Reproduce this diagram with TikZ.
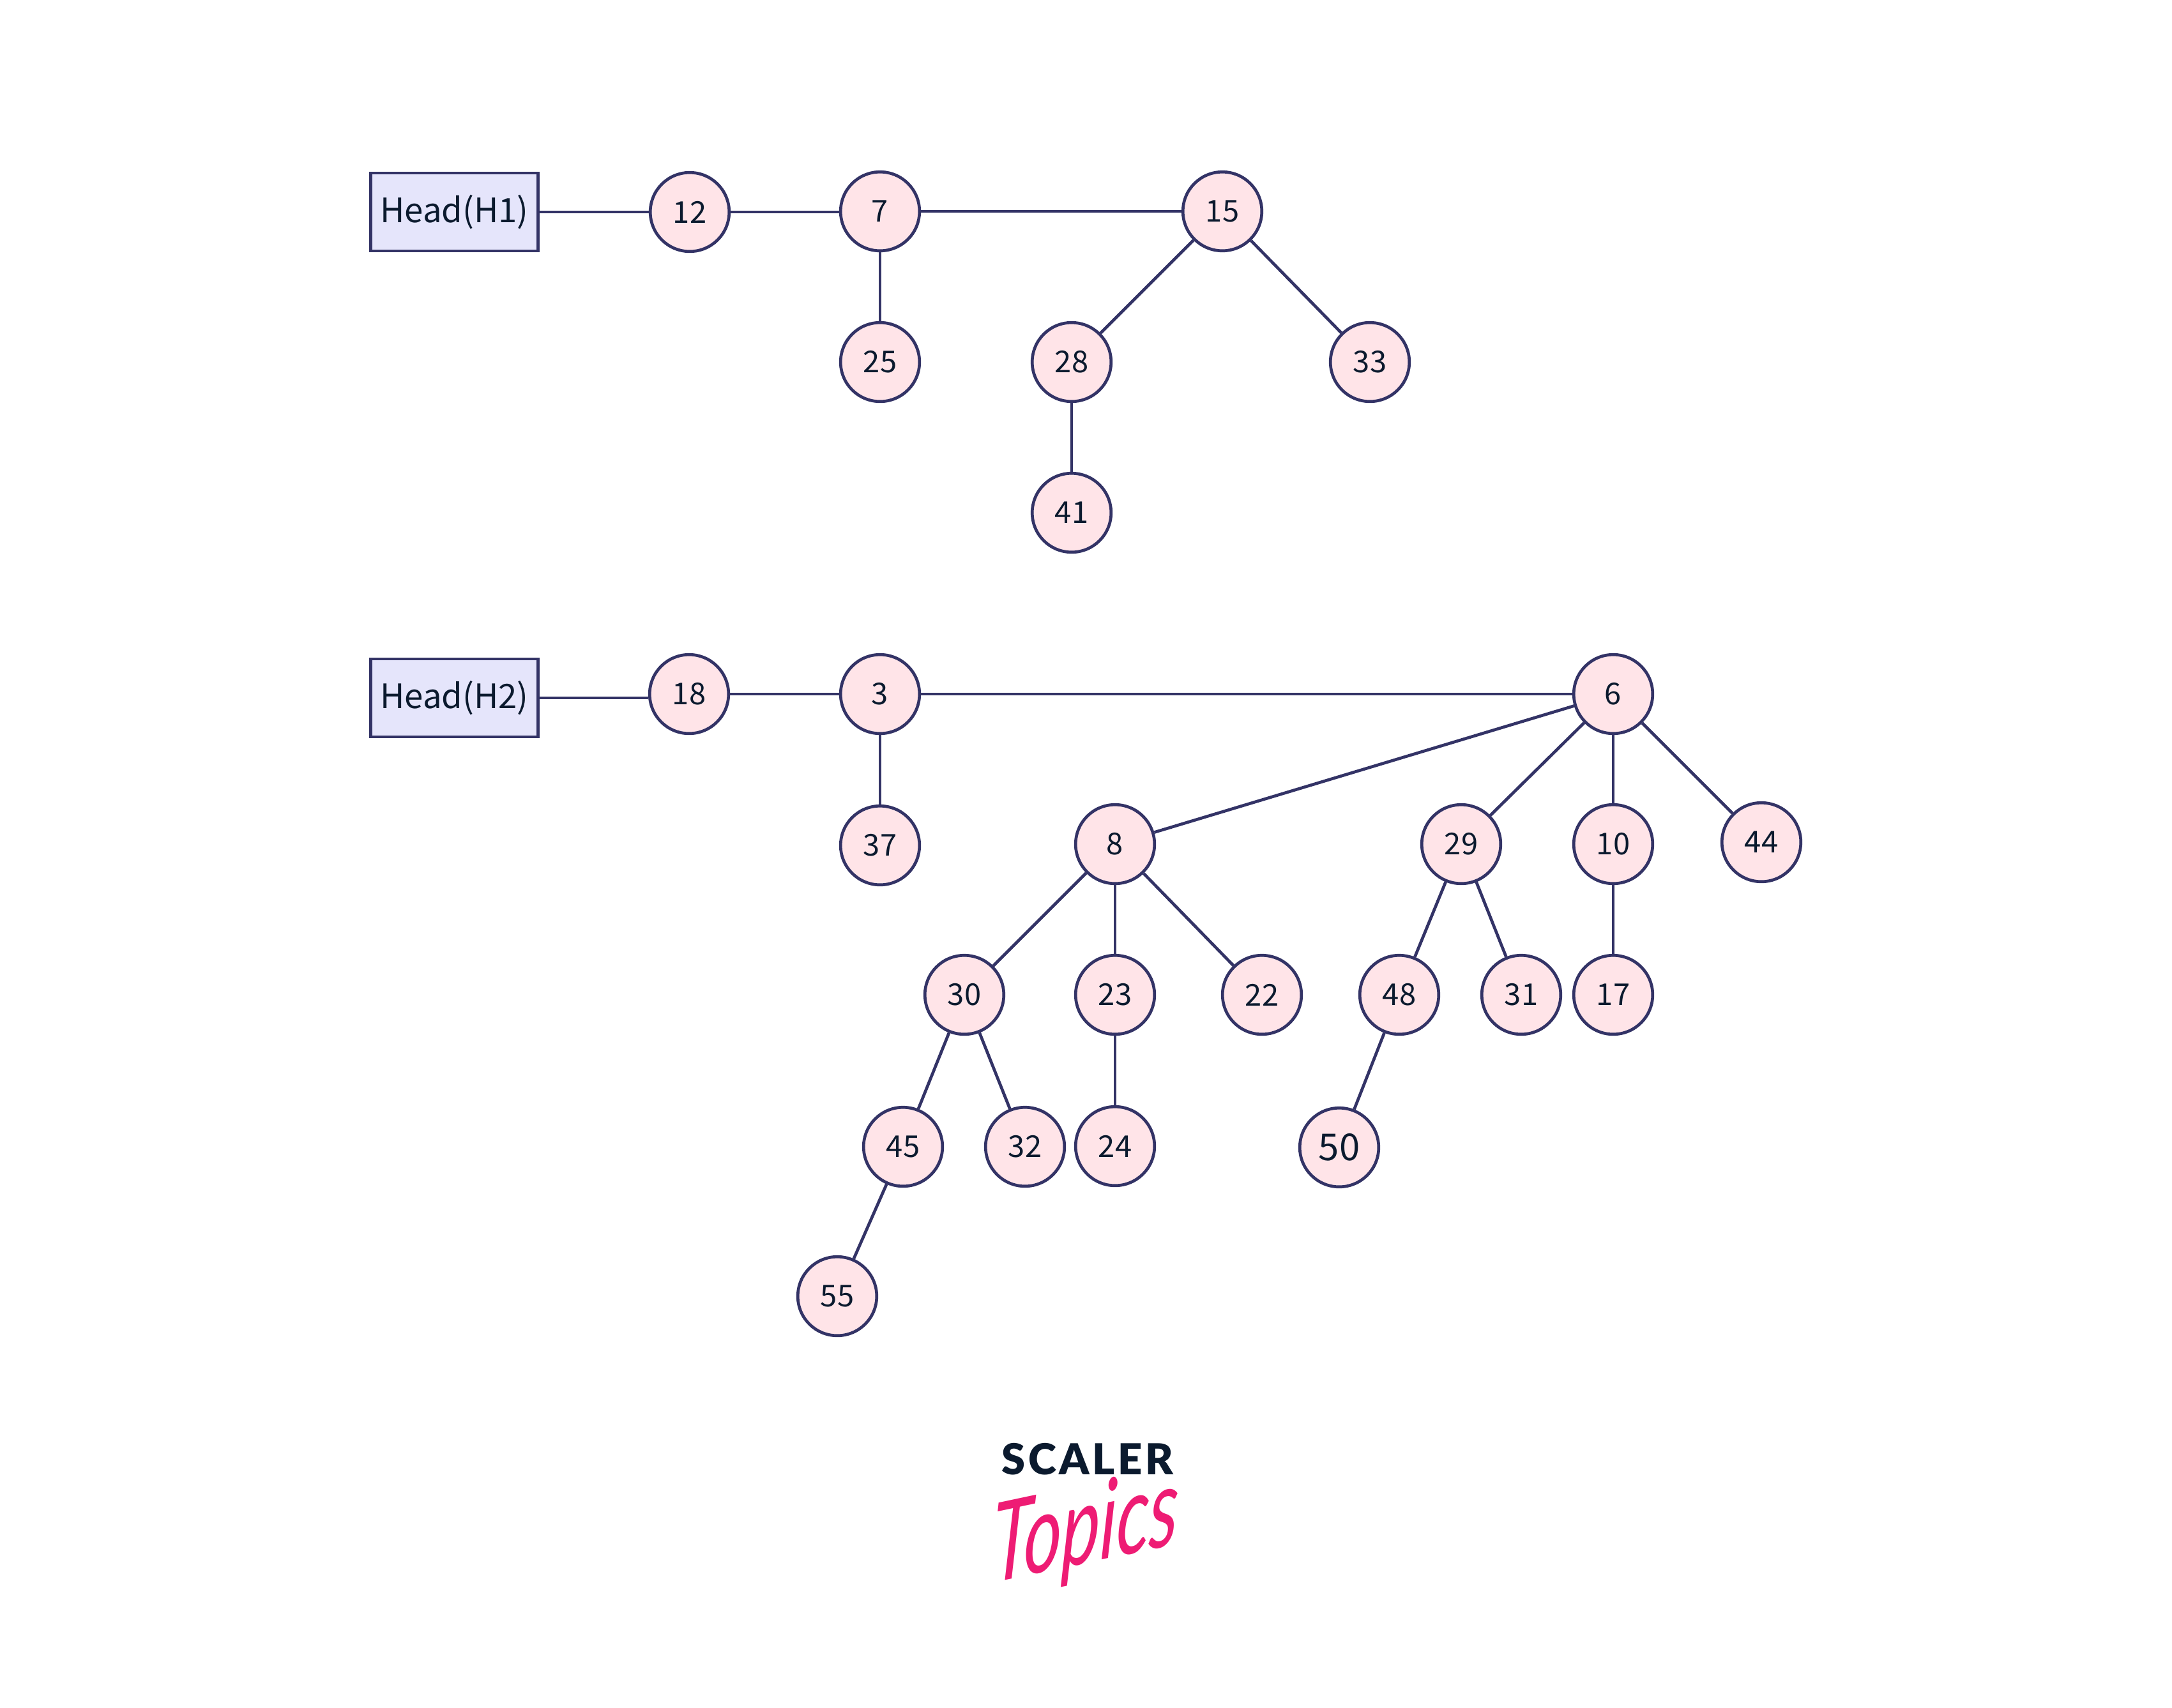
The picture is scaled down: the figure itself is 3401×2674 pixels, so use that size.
\documentclass[tikz,border=0pt]{standalone}
\usepackage{fontspec}
\setmainfont{Noto Sans CJK SC}
\newfontfamily\logofont[LetterSpace=7]{Lato Black}
\newfontfamily\topicsfont{Lato}
\definecolor{edgeblue}{HTML}{333366}
\definecolor{nodepink}{HTML}{FFE4E8}
\definecolor{boxlav}{HTML}{E5E5FB}
\definecolor{inkdark}{HTML}{0B1A2E}
\definecolor{logopink}{HTML}{EE1C74}
\tikzset{
  heap/.style={circle,draw=edgeblue,fill=nodepink,line width=0.047cm,minimum size=1.235cm,inner sep=0pt,text=inkdark,font=\fontsize{13.4}{16}\selectfont},
  headbox/.style={rectangle,draw=edgeblue,fill=boxlav,line width=0.047cm,minimum width=2.62cm,minimum height=1.22cm,inner sep=0pt,text=inkdark,font=\fontsize{15}{18}\selectfont},
  link/.style={draw=edgeblue,line width=0.047cm}
}
\begin{document}
\begin{tikzpicture}[x=0.01cm,y=-0.01cm]
\useasboundingbox (0,0) rectangle (3401,2674);
\fill[white] (0,0) rectangle (3401,2674);
% first heap
\node[headbox] (h1) at (711.5,332) {Head(H1)};
\node[heap] (a12) at (1080,332) {12};
\node[heap] (a7) at (1378,331) {7};
\node[heap] (a15) at (1914,331) {15};
\node[heap] (a25) at (1378,567) {25};
\node[heap] (a28) at (1678,567) {28};
\node[heap] (a33) at (2145,567) {33};
\node[heap] (a41) at (1678,803) {41};
% second heap
\node[headbox] (h2) at (711.5,1093) {Head(H2)};
\node[heap] (b18) at (1079,1087) {18};
\node[heap] (b3) at (1378,1087) {3};
\node[heap] (b6) at (2526,1087) {6};
\node[heap] (b37) at (1378,1324) {37};
\node[heap] (b8) at (1746,1322) {8};
\node[heap] (b29) at (2288,1322) {29};
\node[heap] (b10) at (2526,1322) {10};
\node[heap] (b44) at (2758,1319) {44};
\node[heap] (b30) at (1510,1558) {30};
\node[heap] (b23) at (1746,1558) {23};
\node[heap] (b22) at (1976,1558) {22};
\node[heap] (b48) at (2191,1558) {48};
\node[heap] (b31) at (2382,1558) {31};
\node[heap] (b17) at (2526,1558) {17};
\node[heap] (b45) at (1414,1796) {45};
\node[heap] (b32) at (1605,1796) {32};
\node[heap] (b24) at (1746,1795) {24};
\node[heap,font=\fontsize{16.5}{20}\selectfont] (b50) at (2097,1797) {50};
\node[heap] (b55) at (1311,2030) {55};
% links
\draw[link] (h1.east) -- (a12.west);
\draw[link] (a12.east) -- (a12.east -| a7.west);
\draw[link] (a7) -- (a15);
\draw[link] (a7) -- (a25);
\draw[link] (a15) -- (a28);
\draw[link] (a15) -- (a33);
\draw[link] (a28) -- (a41);
\draw[link] (h2.east) -- (h2.east -| b18.west);
\draw[link] (b18) -- (b3);
\draw[link] (b3) -- (b6);
\draw[link] (b3) -- (b37);
\draw[link] (b6) -- (b8);
\draw[link] (b6) -- (b29);
\draw[link] (b6) -- (b10);
\draw[link] (b6) -- (b44);
\draw[link] (b8) -- (b30);
\draw[link] (b8) -- (b23);
\draw[link] (b8) -- (b22);
\draw[link] (b29) -- (b48);
\draw[link] (b29) -- (b31);
\draw[link] (b10) -- (b17);
\draw[link] (b30) -- (b45);
\draw[link] (b30) -- (b32);
\draw[link] (b23) -- (b24);
\draw[link] (b48) -- (b50);
\draw[link] (b45) -- (b55);
% logo
\node[text=inkdark,font=\logofont\fontsize{19}{22}\selectfont,inner sep=0pt] (logoA) at (1703,2285) {SCALER};
\node[text=logopink,font=\topicsfont\itshape\fontsize{33}{36}\selectfont,inner sep=0pt,rotate=12,xslant=0.25,yscale=1.45,transform shape] (logoB) at (1700,2400) {Topics};
\end{tikzpicture}
\end{document}
